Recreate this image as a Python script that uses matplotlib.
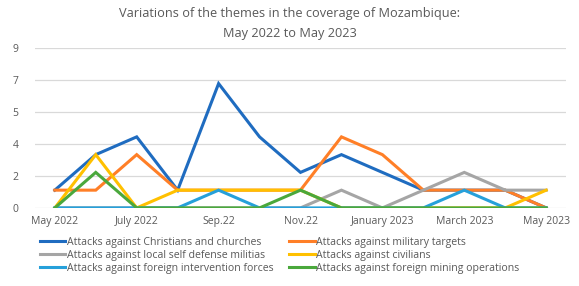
import numpy as np
import matplotlib
matplotlib.use("Agg")
import matplotlib.pyplot as plt

months = ["May 2022", "Jun 2022", "July 2022", "Aug 2022", "Sep.22", "Oct 2022", "Nov.22",
          "Dec 2022", "January 2023", "Feb 2023", "March 2023", "Apr 2023", "May 2023"]
tick_labels = ["May 2022", "July 2022", "Sep.22", "Nov.22", "January 2023", "March 2023", "May 2023"]

christians = [1, 3, 4, 1, 7, 4, 2, 3, 2, 1, 1, 1, 0]
military = [1, 1, 3, 1, 1, 1, 1, 4, 3, 1, 1, 1, 0]
militias = [0, 0, 0, 0, 0, 0, 0, 1, 0, 1, 2, 1, 1]
civilians = [0, 3, 0, 1, 1, 1, 1, 0, 0, 0, 0, 0, 1]
foreign_forces = [0, 0, 0, 0, 1, 0, 0, 0, 0, 0, 1, 0, 0]
mining = [0, 2, 0, 0, 0, 0, 1, 0, 0, 0, 0, 0, 0]

series = [
    ("Attacks against Christians and churches", christians, "#1f6cc0"),
    ("Attacks against military targets", military, "#ff7f27"),
    ("Attacks against local self defense militias", militias, "#a5a5a5"),
    ("Attacks against civilians", civilians, "#ffc000"),
    ("Attacks against foreign intervention forces", foreign_forces, "#26a0da"),
    ("Attacks against foreign mining operations", mining, "#4aa83c"),
]

plt.rcParams["font.family"] = ["Open Sans", "DejaVu Sans"]
txt = "#595959"

fig = plt.figure(figsize=(5.79, 2.86), dpi=100)
ax = fig.add_axes([0.06, 0.273, 0.918, 0.559])

x = np.arange(len(months))
for label, vals, col in series:
    ax.plot(x, vals, color=col, lw=2.2, label=label, solid_joinstyle="miter")

ax.set_xlim(-0.49, len(months) - 0.51)
ax.set_ylim(0, 9)
yt = np.arange(0, 9.01, 1.8)
ax.set_yticks(yt)
ax.set_yticklabels([f"{v:.0f}" for v in yt])
ax.set_xticks(x[::2])
ax.set_xticklabels(tick_labels)
ax.tick_params(length=0, labelsize=7.5, colors=txt, pad=6)
ax.tick_params(axis="y", pad=16)
for lab in ax.get_yticklabels():
    lab.set_horizontalalignment("left")
ax.grid(axis="y", color="#d9d9d9", lw=0.9)
ax.set_axisbelow(True)
for s in ax.spines.values():
    s.set_visible(False)

fig.text(0.5, 0.952, "Variations of the themes in the coverage of Mozambique:",
         ha="center", va="center", fontsize=9.2, color=txt)
fig.text(0.5, 0.882, "May 2022 to May 2023", ha="center", va="center", fontsize=9.2, color=txt)

handles, labels = ax.get_legend_handles_labels()
order = [0, 2, 4, 1, 3, 5]
fig.legend([handles[i] for i in order], [labels[i] for i in order],
           loc="upper left", bbox_to_anchor=(0.069, 0.172), ncol=2, frameon=False,
           fontsize=7.6, labelcolor=txt, handlelength=2.4, handletextpad=0.15,
           columnspacing=1.5, labelspacing=0.2, borderpad=0, borderaxespad=0)

fig.savefig("out.png", dpi=100)
